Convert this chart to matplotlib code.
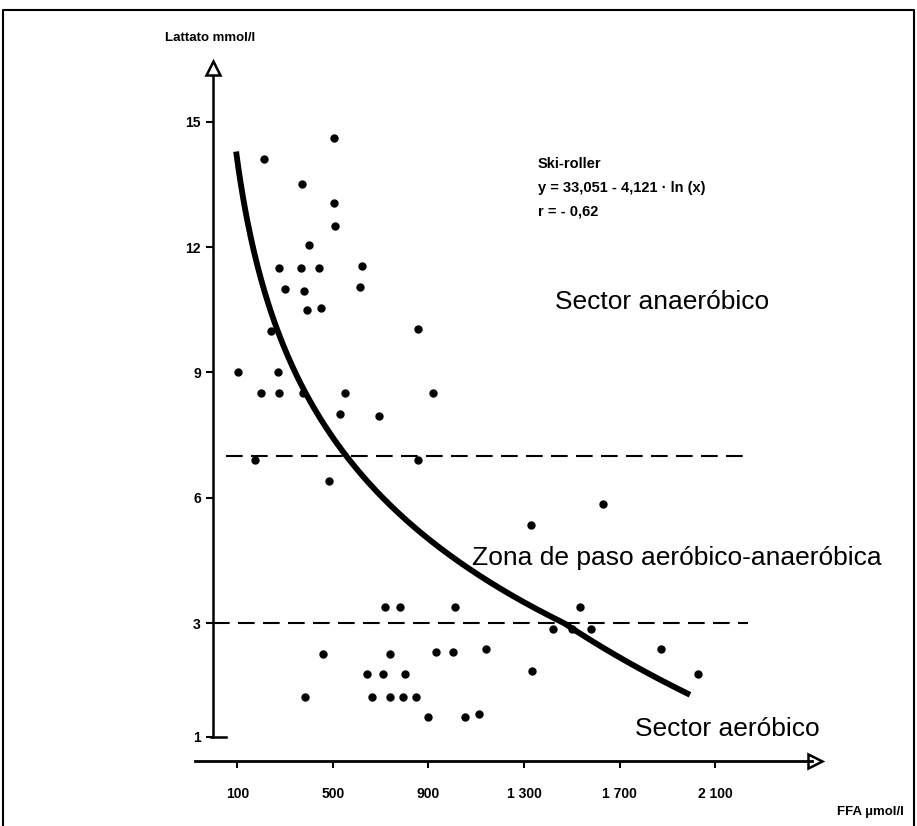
import numpy as np
import matplotlib
matplotlib.use("Agg")
import matplotlib.pyplot as plt
from matplotlib.lines import Line2D

plt.rcParams['font.family'] = ['Liberation Sans', 'DejaVu Sans']

# --- data -------------------------------------------------------------
ffa = [210, 505, 370, 505, 510, 400, 275, 365, 440, 620, 300, 380, 615,
       390, 450, 240, 855, 105, 270, 200, 275, 375, 550, 920, 530, 695,
       175, 855, 485, 1330, 1630, 720, 780, 1010, 1535, 1420, 1500, 1580,
       460, 740, 930, 1005, 1140, 1335, 645, 710, 800, 385, 665, 740, 795,
       850, 900, 1055, 1110, 1875, 2030]
lactate = [14.1, 14.6, 13.5, 13.05, 12.5, 12.05, 11.5, 11.5, 11.5, 11.55,
           11.0, 10.95, 11.05, 10.5, 10.55, 10.0, 10.05, 9.0, 9.0, 8.5, 8.5,
           8.5, 8.5, 8.5, 8.0, 7.95, 6.9, 6.9, 6.4, 5.35, 5.85, 3.4, 3.4,
           3.4, 3.4, 2.9, 2.9, 2.9, 2.45, 2.45, 2.5, 2.5, 2.55, 2.15, 2.1,
           2.1, 2.1, 1.7, 1.7, 1.7, 1.7, 1.7, 1.35, 1.35, 1.4, 2.55, 2.1]

x_ticks = [100, 500, 900, 1300, 1700, 2100]
x_tick_labels = ['100', '500', '900', '1 300', '1 700', '2 100']
y_ticks = [1, 3, 6, 9, 12, 15]
y_tick_labels = ['1', '3', '6', '9', '12', '15']

fit_a, fit_b = 33.051, 4.121          # y = a - b * ln(x)
fit_r = '- 0,62'
fit_range = (95, 1995)
aerobic_limit = 3
anaerobic_limit = 7

# --- figure -----------------------------------------------------------
W, H = 917, 826
fig = plt.figure(figsize=(W / 100, H / 100), dpi=100)
ax = fig.add_axes([0, 0, 1, 1])

# lower segment of the lactate axis (1-3) is drawn stretched
STRETCH = 56.7 / 41.8


def fwd(y):
    y = np.asarray(y, dtype=float)
    return np.where(y >= 3, y, 3 - (3 - y) * STRETCH)


def inv(t):
    t = np.asarray(t, dtype=float)
    return np.where(t >= 3, t, 3 - (3 - t) / STRETCH)


ax.set_yscale('function', functions=(fwd, inv))
ax.set_xlim(-893.3, 2945.2)
ax.set_ylim(-0.576, 17.91)
ax.patch.set_alpha(0)

for s in ('top', 'right'):
    ax.spines[s].set_visible(False)

x_axis_y = 0.571
ax.spines['left'].set_position(('data', 0))
ax.spines['left'].set_bounds(1, 16.1)
ax.spines['left'].set_linewidth(1.8)
ax.spines['bottom'].set_position(('data', x_axis_y))
ax.spines['bottom'].set_bounds(-76, 2505)
ax.spines['bottom'].set_linewidth(2.0)

ax.set_xticks(x_ticks, x_tick_labels)
ax.set_yticks(y_ticks, y_tick_labels)
ax.tick_params(axis='x', direction='out', length=5, width=1.5, pad=14,
               labelsize=10)
ax.tick_params(axis='y', direction='out', length=5, width=1.5, pad=4,
               labelsize=10)
for lab in ax.get_xticklabels() + ax.get_yticklabels():
    lab.set_fontweight('bold')
ax.minorticks_off()

# foot of the lactate axis
ax.plot([-10, 53], [1, 1], color='black', lw=1.8, clip_on=False)

# open arrow heads
ax.plot([0], [16.28], marker='^', ms=10, mfc='white', mec='black', mew=1.8,
        clip_on=False)
ax.plot([2520], [x_axis_y], marker='>', ms=10, mfc='white', mec='black',
        mew=1.8, clip_on=False)

# zone limits
ax.plot([53, 2238], [anaerobic_limit] * 2, color='black', lw=1.5,
        dashes=(8, 4))
ax.plot([0, 2238], [aerobic_limit] * 2, color='black', lw=1.5,
        dashes=(8, 4))

# regression curve
xs = np.linspace(fit_range[0], fit_range[1], 400)
ax.plot(xs, fit_a - fit_b * np.log(xs), color='black', lw=4.2,
        solid_capstyle='butt')

# measurements
ax.plot(ffa, lactate, 'o', ms=5, color='black', ls='none')


# --- text -------------------------------------------------------------
def ftext(px, py, s, **kw):
    fig.text(px / W, 1 - py / H, s, va='center', ha='left', **kw)


ftext(165, 38, 'Lattato mmol/l', fontsize=9.5, fontweight='bold')
ftext(837, 812, 'FFA µmol/l', fontsize=9.5, fontweight='bold')

ftext(538, 164, 'Ski-roller', fontsize=10.5, fontweight='bold')
ftext(538, 188, f'y = {fit_a:.3f}'.replace('.', ',') + ' - '
      + f'{fit_b:.3f}'.replace('.', ',') + ' · ln (x)',
      fontsize=10.5, fontweight='bold')
ftext(538, 211, 'r = ' + fit_r, fontsize=10.5, fontweight='bold')

ftext(555, 302, 'Sector anaeróbico', fontsize=19)
ftext(472, 558, 'Zona de paso aeróbico-anaeróbica', fontsize=19)
ftext(635, 729, 'Sector aeróbico', fontsize=19)

# page frame
fig.add_artist(Line2D([3 / W, 3 / W, 914 / W, 914 / W],
                      [0, 1 - 10 / H, 1 - 10 / H, 0],
                      transform=fig.transFigure, color='black', lw=1.5))

fig.savefig('out.png', dpi=100, facecolor='white')
